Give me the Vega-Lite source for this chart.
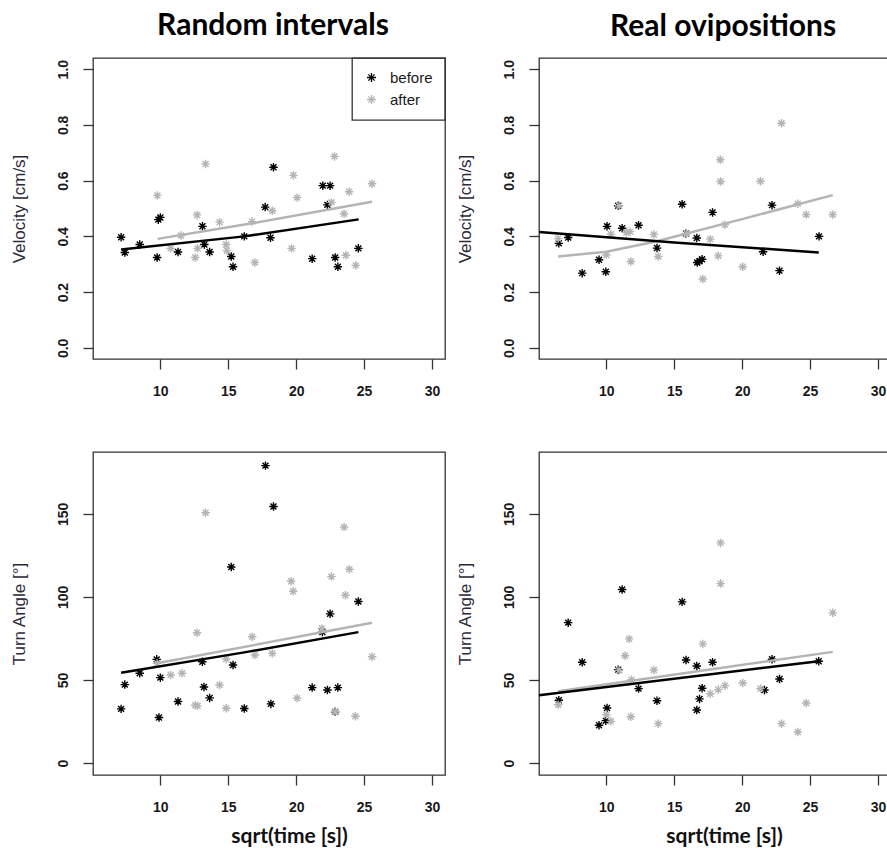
{
  "$schema": "https://vega.github.io/schema/vega-lite/v6.json",
  "background": "white",
  "padding": {"left": 9, "top": 10, "right": 0, "bottom": 0},
  "autosize": {"type": "pad"},
  "datasets": {
    "pts": [
      {"p":"vr","g":"before","x":7.11,"y":0.397},{"p":"vr","g":"before","x":7.38,"y":0.342},{"p":"vr","g":"before","x":8.48,"y":0.371},{"p":"vr","g":"before","x":9.76,"y":0.324},{"p":"vr","g":"before","x":9.85,"y":0.46},{"p":"vr","g":"before","x":10.0,"y":0.468},{"p":"vr","g":"before","x":11.3,"y":0.344},{"p":"vr","g":"before","x":13.1,"y":0.436},{"p":"vr","g":"before","x":13.24,"y":0.371},{"p":"vr","g":"before","x":13.63,"y":0.344},{"p":"vr","g":"before","x":15.22,"y":0.328},{"p":"vr","g":"before","x":15.35,"y":0.291},{"p":"vr","g":"before","x":16.18,"y":0.4},{"p":"vr","g":"before","x":17.72,"y":0.505},{"p":"vr","g":"before","x":18.11,"y":0.395},{"p":"vr","g":"before","x":18.33,"y":0.648},{"p":"vr","g":"before","x":21.18,"y":0.32},{"p":"vr","g":"before","x":21.96,"y":0.582},{"p":"vr","g":"before","x":22.5,"y":0.582},{"p":"vr","g":"before","x":22.3,"y":0.513},{"p":"vr","g":"before","x":22.87,"y":0.324},{"p":"vr","g":"before","x":23.07,"y":0.291},{"p":"vr","g":"before","x":24.58,"y":0.357},
      {"p":"vr","g":"after","x":9.78,"y":0.547},{"p":"vr","g":"after","x":10.76,"y":0.357},{"p":"vr","g":"after","x":11.52,"y":0.403},{"p":"vr","g":"after","x":12.57,"y":0.324},{"p":"vr","g":"after","x":12.7,"y":0.477},{"p":"vr","g":"after","x":12.74,"y":0.357},{"p":"vr","g":"after","x":13.33,"y":0.66},{"p":"vr","g":"after","x":14.36,"y":0.451},{"p":"vr","g":"after","x":14.85,"y":0.371},{"p":"vr","g":"after","x":14.9,"y":0.349},{"p":"vr","g":"after","x":16.76,"y":0.453},{"p":"vr","g":"after","x":16.96,"y":0.306},{"p":"vr","g":"after","x":18.24,"y":0.492},{"p":"vr","g":"after","x":19.66,"y":0.357},{"p":"vr","g":"after","x":19.8,"y":0.619},{"p":"vr","g":"after","x":20.07,"y":0.539},{"p":"vr","g":"after","x":22.6,"y":0.522},{"p":"vr","g":"after","x":22.82,"y":0.687},{"p":"vr","g":"after","x":23.53,"y":0.481},{"p":"vr","g":"after","x":23.66,"y":0.332},{"p":"vr","g":"after","x":23.9,"y":0.56},{"p":"vr","g":"after","x":24.39,"y":0.296},{"p":"vr","g":"after","x":25.59,"y":0.589},
      {"p":"vo","g":"before","x":6.5,"y":0.375},{"p":"vo","g":"before","x":7.19,"y":0.396},{"p":"vo","g":"before","x":8.22,"y":0.268},{"p":"vo","g":"before","x":9.46,"y":0.316},{"p":"vo","g":"before","x":9.96,"y":0.273},{"p":"vo","g":"before","x":10.05,"y":0.436},{"p":"vo","g":"before","x":10.87,"y":0.51},{"p":"vo","g":"before","x":11.16,"y":0.429},{"p":"vo","g":"before","x":12.37,"y":0.44},{"p":"vo","g":"before","x":13.73,"y":0.358},{"p":"vo","g":"before","x":15.58,"y":0.515},{"p":"vo","g":"before","x":15.87,"y":0.41},{"p":"vo","g":"before","x":16.66,"y":0.394},{"p":"vo","g":"before","x":16.69,"y":0.306},{"p":"vo","g":"before","x":16.86,"y":0.311},{"p":"vo","g":"before","x":17.05,"y":0.318},{"p":"vo","g":"before","x":17.82,"y":0.486},{"p":"vo","g":"before","x":21.54,"y":0.345},{"p":"vo","g":"before","x":22.2,"y":0.512},{"p":"vo","g":"before","x":22.75,"y":0.277},{"p":"vo","g":"before","x":25.66,"y":0.4},
      {"p":"vo","g":"after","x":6.45,"y":0.392},{"p":"vo","g":"after","x":10.0,"y":0.333},{"p":"vo","g":"after","x":10.33,"y":0.408},{"p":"vo","g":"after","x":10.94,"y":0.51},{"p":"vo","g":"after","x":11.48,"y":0.414},{"p":"vo","g":"after","x":11.75,"y":0.417},{"p":"vo","g":"after","x":11.8,"y":0.31},{"p":"vo","g":"after","x":13.5,"y":0.407},{"p":"vo","g":"after","x":13.82,"y":0.328},{"p":"vo","g":"after","x":15.9,"y":0.41},{"p":"vo","g":"after","x":17.1,"y":0.247},{"p":"vo","g":"after","x":17.65,"y":0.39},{"p":"vo","g":"after","x":18.24,"y":0.33},{"p":"vo","g":"after","x":18.39,"y":0.675},{"p":"vo","g":"after","x":18.41,"y":0.597},{"p":"vo","g":"after","x":18.73,"y":0.442},{"p":"vo","g":"after","x":20.04,"y":0.291},{"p":"vo","g":"after","x":21.35,"y":0.598},{"p":"vo","g":"after","x":22.9,"y":0.806},{"p":"vo","g":"after","x":24.1,"y":0.517},{"p":"vo","g":"after","x":24.72,"y":0.478},{"p":"vo","g":"after","x":26.67,"y":0.478},
      {"p":"ar","g":"before","x":7.11,"y":32.6},{"p":"ar","g":"before","x":7.38,"y":47.2},{"p":"ar","g":"before","x":8.48,"y":54},{"p":"ar","g":"before","x":9.73,"y":62.4},{"p":"ar","g":"before","x":9.9,"y":27.4},{"p":"ar","g":"before","x":10.0,"y":51.4},{"p":"ar","g":"before","x":11.3,"y":37},{"p":"ar","g":"before","x":13.09,"y":61},{"p":"ar","g":"before","x":13.21,"y":45.8},{"p":"ar","g":"before","x":13.63,"y":39.2},{"p":"ar","g":"before","x":15.22,"y":118},{"p":"ar","g":"before","x":15.35,"y":59},{"p":"ar","g":"before","x":16.18,"y":32.8},{"p":"ar","g":"before","x":17.74,"y":179},{"p":"ar","g":"before","x":18.14,"y":35.6},{"p":"ar","g":"before","x":18.33,"y":154.4},{"p":"ar","g":"before","x":21.18,"y":45.4},{"p":"ar","g":"before","x":21.93,"y":78.8},{"p":"ar","g":"before","x":22.3,"y":44},{"p":"ar","g":"before","x":22.5,"y":89.8},{"p":"ar","g":"before","x":22.87,"y":30.8},{"p":"ar","g":"before","x":23.07,"y":45.4},{"p":"ar","g":"before","x":24.58,"y":97.2},
      {"p":"ar","g":"after","x":9.76,"y":60},{"p":"ar","g":"after","x":10.76,"y":53},{"p":"ar","g":"after","x":11.6,"y":54},{"p":"ar","g":"after","x":12.57,"y":34.8},{"p":"ar","g":"after","x":12.74,"y":34.4},{"p":"ar","g":"after","x":12.7,"y":78.4},{"p":"ar","g":"after","x":13.33,"y":150.6},{"p":"ar","g":"after","x":14.36,"y":47},{"p":"ar","g":"after","x":14.85,"y":62.6},{"p":"ar","g":"after","x":14.85,"y":33},{"p":"ar","g":"after","x":16.76,"y":76},{"p":"ar","g":"after","x":16.96,"y":65},{"p":"ar","g":"after","x":18.24,"y":66},{"p":"ar","g":"after","x":19.63,"y":109.4},{"p":"ar","g":"after","x":19.78,"y":103.4},{"p":"ar","g":"after","x":20.07,"y":39},{"p":"ar","g":"after","x":21.9,"y":81},{"p":"ar","g":"after","x":22.6,"y":112.2},{"p":"ar","g":"after","x":22.87,"y":31},{"p":"ar","g":"after","x":23.53,"y":142},{"p":"ar","g":"after","x":23.63,"y":101},{"p":"ar","g":"after","x":23.92,"y":116.6},{"p":"ar","g":"after","x":24.36,"y":28.2},{"p":"ar","g":"after","x":25.59,"y":64},
      {"p":"ao","g":"before","x":6.5,"y":37.8},{"p":"ao","g":"before","x":7.19,"y":84.5},{"p":"ao","g":"before","x":8.22,"y":60.7},{"p":"ao","g":"before","x":9.46,"y":22.7},{"p":"ao","g":"before","x":9.96,"y":25.5},{"p":"ao","g":"before","x":10.05,"y":33.1},{"p":"ao","g":"before","x":10.87,"y":56.2},{"p":"ao","g":"before","x":11.16,"y":104.4},{"p":"ao","g":"before","x":12.37,"y":44.8},{"p":"ao","g":"before","x":13.73,"y":37.5},{"p":"ao","g":"before","x":15.58,"y":97},{"p":"ao","g":"before","x":15.87,"y":62},{"p":"ao","g":"before","x":16.66,"y":58.4},{"p":"ao","g":"before","x":16.66,"y":31.9},{"p":"ao","g":"before","x":16.86,"y":38.6},{"p":"ao","g":"before","x":17.05,"y":45},{"p":"ao","g":"before","x":17.82,"y":60.7},{"p":"ao","g":"before","x":21.64,"y":44},{"p":"ao","g":"before","x":22.2,"y":62.5},{"p":"ao","g":"before","x":22.75,"y":50.6},{"p":"ao","g":"before","x":25.64,"y":61.3},
      {"p":"ao","g":"after","x":6.45,"y":35.1},{"p":"ao","g":"after","x":10.0,"y":29.1},{"p":"ao","g":"after","x":10.33,"y":25.1},{"p":"ao","g":"after","x":10.94,"y":55.8},{"p":"ao","g":"after","x":11.38,"y":64.6},{"p":"ao","g":"after","x":11.68,"y":74.7},{"p":"ao","g":"after","x":11.8,"y":27.9},{"p":"ao","g":"after","x":11.85,"y":50.2},{"p":"ao","g":"after","x":13.5,"y":56},{"p":"ao","g":"after","x":13.82,"y":23.7},{"p":"ao","g":"after","x":17.1,"y":71.7},{"p":"ao","g":"after","x":17.65,"y":41.7},{"p":"ao","g":"after","x":18.24,"y":44.2},{"p":"ao","g":"after","x":18.41,"y":132.5},{"p":"ao","g":"after","x":18.41,"y":108},{"p":"ao","g":"after","x":18.73,"y":46.6},{"p":"ao","g":"after","x":20.04,"y":48.2},{"p":"ao","g":"after","x":21.35,"y":44.8},{"p":"ao","g":"after","x":22.9,"y":23.7},{"p":"ao","g":"after","x":24.1,"y":18.7},{"p":"ao","g":"after","x":24.72,"y":36.1},{"p":"ao","g":"after","x":26.67,"y":90.4}
    ],
    "fits": [
      {"p":"vr","g":"before","x":7.11,"y":0.353},{"p":"vr","g":"before","x":16.18,"y":0.4},{"p":"vr","g":"before","x":24.6,"y":0.461},
      {"p":"vr","g":"after","x":9.8,"y":0.391},{"p":"vr","g":"after","x":16.76,"y":0.447},{"p":"vr","g":"after","x":25.59,"y":0.524},
      {"p":"vo","g":"before","x":5.04,"y":0.416},{"p":"vo","g":"before","x":15,"y":0.378},{"p":"vo","g":"before","x":25.64,"y":0.342},
      {"p":"vo","g":"after","x":6.45,"y":0.328},{"p":"vo","g":"after","x":10,"y":0.345},{"p":"vo","g":"after","x":13.56,"y":0.381},{"p":"vo","g":"after","x":20,"y":0.462},{"p":"vo","g":"after","x":26.67,"y":0.548},
      {"p":"ar","g":"before","x":7.11,"y":54.4},{"p":"ar","g":"before","x":16.18,"y":66.6},{"p":"ar","g":"before","x":24.58,"y":78.8},
      {"p":"ar","g":"after","x":9.76,"y":60},{"p":"ar","g":"after","x":25.59,"y":84.4},
      {"p":"ao","g":"before","x":5.04,"y":40.8},{"p":"ao","g":"before","x":25.64,"y":61.3},
      {"p":"ao","g":"after","x":6.45,"y":43.2},{"p":"ao","g":"after","x":26.67,"y":66.9}
    ]
  },
  "columns": 2,
  "spacing": {"row": 93, "column": 94},
  "bounds": "flush",
  "resolve": {
    "scale": {"x": "independent", "y": "independent"},
    "axis": {"x": "independent", "y": "independent"},
    "legend": {"color": "independent"}
  },
  "concat": [
    {
      "width": 352, "height": 301,
      "title": {"text": "Random intervals", "font": "Lato", "fontSize": 30, "fontWeight": "bold", "color": "#000000", "anchor": "middle", "frame": "group", "baseline": "alphabetic", "offset": -8, "dx": 4},
      "layer": [
        {
          "data": {"name": "pts"},
          "transform": [{"filter": "datum.p === 'vr'"}],
          "mark": {"type": "point", "shape": "M-1,0L1,0M0,-1L0,1M-0.7,-0.7L0.7,0.7M-0.7,0.7L0.7,-0.7", "filled": false, "size": 72, "strokeWidth": 1.4, "opacity": 1},
          "encoding": {
            "x": {"field": "x", "type": "quantitative", "scale": {"domain": [5.04, 30.96], "nice": false, "zero": false}, "axis": {"values": [10, 15, 20, 25, 30], "title": null}},
            "y": {"field": "y", "type": "quantitative", "scale": {"domain": [-0.04, 1.04], "nice": false, "zero": false}, "axis": {"values": [0, 0.2, 0.4, 0.6, 0.8, 1.0], "format": ".1f", "title": "Velocity [cm/s]"}},
            "color": {"field": "g", "type": "nominal", "scale": {"domain": ["before", "after"], "range": ["#000000", "#b4b4b4"]},
              "legend": {"title": null, "orient": "top-right", "offset": 0, "strokeColor": "#333333", "padding": 12, "labelFont": "Liberation Sans", "labelFontSize": 15, "labelColor": "#1a1a1a", "labelOffset": 11, "rowPadding": 6, "symbolType": "M-1,0L1,0M0,-1L0,1M-0.7,-0.7L0.7,0.7M-0.7,0.7L0.7,-0.7", "symbolSize": 80, "symbolStrokeWidth": 1.3}}
          }
        },
        {
          "data": {"name": "fits"},
          "transform": [{"filter": "datum.p === 'vr' && datum.g === 'after'"}],
          "mark": {"type": "line", "color": "#b4b4b4", "strokeWidth": 2.5},
          "encoding": {"x": {"field": "x", "type": "quantitative"}, "y": {"field": "y", "type": "quantitative"}}
        },
        {
          "data": {"name": "fits"},
          "transform": [{"filter": "datum.p === 'vr' && datum.g === 'before'"}],
          "mark": {"type": "line", "color": "#000000", "strokeWidth": 2.5},
          "encoding": {"x": {"field": "x", "type": "quantitative"}, "y": {"field": "y", "type": "quantitative"}}
        }
      ]
    },
    {
      "width": 352, "height": 301,
      "title": {"text": "Real ovipositions", "font": "Lato", "fontSize": 30, "fontWeight": "bold", "color": "#000000", "anchor": "middle", "frame": "group", "baseline": "alphabetic", "offset": -8, "dx": 8},
      "layer": [
        {
          "data": {"name": "pts"},
          "transform": [{"filter": "datum.p === 'vo'"}],
          "mark": {"type": "point", "shape": "M-1,0L1,0M0,-1L0,1M-0.7,-0.7L0.7,0.7M-0.7,0.7L0.7,-0.7", "filled": false, "size": 72, "strokeWidth": 1.4, "opacity": 1},
          "encoding": {
            "x": {"field": "x", "type": "quantitative", "scale": {"domain": [5.04, 30.96], "nice": false, "zero": false}, "axis": {"values": [10, 15, 20, 25, 30], "title": null}},
            "y": {"field": "y", "type": "quantitative", "scale": {"domain": [-0.04, 1.04], "nice": false, "zero": false}, "axis": {"values": [0, 0.2, 0.4, 0.6, 0.8, 1.0], "format": ".1f", "title": "Velocity [cm/s]"}},
            "color": {"field": "g", "type": "nominal", "scale": {"domain": ["before", "after"], "range": ["#000000", "#b4b4b4"]}, "legend": null}
          }
        },
        {
          "data": {"name": "fits"},
          "transform": [{"filter": "datum.p === 'vo' && datum.g === 'after'"}],
          "mark": {"type": "line", "color": "#b4b4b4", "strokeWidth": 2.5, "clip": true},
          "encoding": {"x": {"field": "x", "type": "quantitative"}, "y": {"field": "y", "type": "quantitative"}}
        },
        {
          "data": {"name": "fits"},
          "transform": [{"filter": "datum.p === 'vo' && datum.g === 'before'"}],
          "mark": {"type": "line", "color": "#000000", "strokeWidth": 2.5, "clip": true},
          "encoding": {"x": {"field": "x", "type": "quantitative"}, "y": {"field": "y", "type": "quantitative"}}
        }
      ]
    },
    {
      "width": 352, "height": 323,
      "layer": [
        {
          "data": {"name": "pts"},
          "transform": [{"filter": "datum.p === 'ar'"}],
          "mark": {"type": "point", "shape": "M-1,0L1,0M0,-1L0,1M-0.7,-0.7L0.7,0.7M-0.7,0.7L0.7,-0.7", "filled": false, "size": 72, "strokeWidth": 1.4, "opacity": 1},
          "encoding": {
            "x": {"field": "x", "type": "quantitative", "scale": {"domain": [5.04, 30.96], "nice": false, "zero": false}, "axis": {"values": [10, 15, 20, 25, 30], "title": "sqrt(time [s])", "titleX": 196}},
            "y": {"field": "y", "type": "quantitative", "scale": {"domain": [-7.2, 187.2], "nice": false, "zero": false}, "axis": {"values": [0, 50, 100, 150], "title": "Turn Angle [°]"}},
            "color": {"field": "g", "type": "nominal", "scale": {"domain": ["before", "after"], "range": ["#000000", "#b4b4b4"]}, "legend": null}
          }
        },
        {
          "data": {"name": "fits"},
          "transform": [{"filter": "datum.p === 'ar' && datum.g === 'after'"}],
          "mark": {"type": "line", "color": "#b4b4b4", "strokeWidth": 2.5},
          "encoding": {"x": {"field": "x", "type": "quantitative"}, "y": {"field": "y", "type": "quantitative"}}
        },
        {
          "data": {"name": "fits"},
          "transform": [{"filter": "datum.p === 'ar' && datum.g === 'before'"}],
          "mark": {"type": "line", "color": "#000000", "strokeWidth": 2.5},
          "encoding": {"x": {"field": "x", "type": "quantitative"}, "y": {"field": "y", "type": "quantitative"}}
        }
      ]
    },
    {
      "width": 352, "height": 323,
      "layer": [
        {
          "data": {"name": "pts"},
          "transform": [{"filter": "datum.p === 'ao'"}],
          "mark": {"type": "point", "shape": "M-1,0L1,0M0,-1L0,1M-0.7,-0.7L0.7,0.7M-0.7,0.7L0.7,-0.7", "filled": false, "size": 72, "strokeWidth": 1.4, "opacity": 1},
          "encoding": {
            "x": {"field": "x", "type": "quantitative", "scale": {"domain": [5.04, 30.96], "nice": false, "zero": false}, "axis": {"values": [10, 15, 20, 25, 30], "title": "sqrt(time [s])", "titleX": 185}},
            "y": {"field": "y", "type": "quantitative", "scale": {"domain": [-7.2, 187.2], "nice": false, "zero": false}, "axis": {"values": [0, 50, 100, 150], "title": "Turn Angle [°]"}},
            "color": {"field": "g", "type": "nominal", "scale": {"domain": ["before", "after"], "range": ["#000000", "#b4b4b4"]}, "legend": null}
          }
        },
        {
          "data": {"name": "fits"},
          "transform": [{"filter": "datum.p === 'ao' && datum.g === 'after'"}],
          "mark": {"type": "line", "color": "#b4b4b4", "strokeWidth": 2.5},
          "encoding": {"x": {"field": "x", "type": "quantitative"}, "y": {"field": "y", "type": "quantitative"}}
        },
        {
          "data": {"name": "fits"},
          "transform": [{"filter": "datum.p === 'ao' && datum.g === 'before'"}],
          "mark": {"type": "line", "color": "#000000", "strokeWidth": 2.5},
          "encoding": {"x": {"field": "x", "type": "quantitative"}, "y": {"field": "y", "type": "quantitative"}}
        }
      ]
    }
  ],
  "config": {
    "view": {"stroke": "#333333", "strokeWidth": 1.3},
    "axis": {
      "domain": false, "grid": false, "ticks": true, "tickSize": 10, "tickWidth": 1.3, "tickColor": "#333333",
      "labelFont": "Liberation Sans", "labelFontSize": 14, "labelFontWeight": "bold", "labelColor": "#1a1a1a",
      "labelFlush": false, "labelOverlap": false,
      "titleFont": "Liberation Sans", "titleFontWeight": "normal", "titleFontSize": 17, "titleColor": "#2a2a3a"
    },
    "axisX": {"labelPadding": 22, "labelBaseline": "middle", "titleFont": "Lato", "titleFontWeight": "bold", "titleFontSize": 21, "titleColor": "#111111", "titleY": 61, "titleBaseline": "middle", "titleAlign": "center"},
    "axisY": {"labelAngle": 270, "labelAlign": "center", "labelBaseline": "middle", "labelPadding": 20, "titleAngle": 270, "titleX": -74, "titleBaseline": "middle", "titleAlign": "center"},
    "legend": {"strokeWidth": 1.3}
  }
}
